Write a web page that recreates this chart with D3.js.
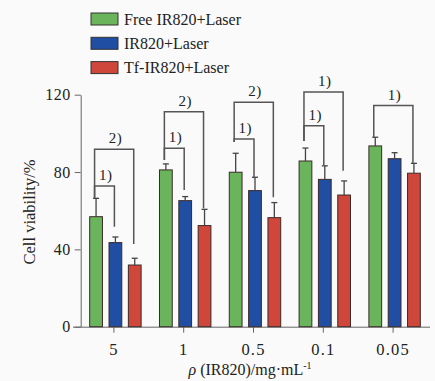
<!DOCTYPE html>
<html><head><meta charset="utf-8">
<script src="https://cdn.jsdelivr.net/npm/d3@7/dist/d3.min.js"></script>
<style>html,body{margin:0;padding:0;background:#fafafa;} svg{display:block;}</style>
</head><body>
<svg id="chart" width="435" height="381"></svg>
<script>
// ---- data ----
const categories = ["5", "1", "0.5", "0.1", "0.05"];
const seriesNames = ["Free IR820+Laser", "IR820+Laser", "Tf-IR820+Laser"];
const freeValues = [56.9, 81.1, 79.9, 85.7, 93.5];
const freeErrors = [9.5, 3.1, 9.8, 6.7, 4.5];
const irValues = [43.5, 65.2, 70.4, 76.2, 86.9];
const irErrors = [2.9, 2.1, 6.9, 7.0, 3.1];
const tfValues = [31.9, 52.3, 56.4, 68.1, 79.4];
const tfErrors = [3.5, 8.4, 7.8, 7.3, 5.1];
const yTicks = [0, 40, 80, 120];
// significance brackets: category, series from/to, top value, leg end values, label
const bracketCats = ["5", "5", "1", "1", "0.5", "0.5", "0.1", "0.1", "0.05"];
const bracketFrom = [0, 0, 0, 0, 0, 0, 0, 0, 0];
const bracketTo = [1, 2, 1, 2, 1, 2, 1, 2, 2];
const bracketTop = [72.8, 91.8, 92.3, 111.2, 97.1, 116.1, 104.0, 121.4, 114.4];
const bracketLeftEnd = [66.4, 66.4, 86.2, 86.2, 95.5, 95.5, 96.0, 96.0, 98.0];
const bracketRightEnd = [51.7, 42.8, 70.7, 61.3, 76.8, 66.9, 83.5, 80.7, 84.5];
const bracketLabels = ["1)", "2)", "1)", "2)", "1)", "2)", "1)", "1)", "1)"];

const colors = ["#6ab55b", "#1f4ea3", "#cf463b"];
const valueSets = [freeValues, irValues, tfValues];
const errorSets = [freeErrors, irErrors, tfErrors];

// ---- scales ----
const svg = d3.select("#chart");
const font = "'Liberation Serif','Times New Roman',serif";
svg.append("rect").attr("width", 435).attr("height", 381).attr("fill", "#fafafa");

const y = d3.scaleLinear().domain([0, 120]).range([326.7, 94.7]);
const x = d3.scaleBand().domain(categories).range([79, 428]).padding(0);
const inner = d3.scaleBand().domain([0, 1, 2]).range([-27.5, 30.5])
  .paddingInner(0.34).paddingOuter(0.17);
const cx = (cat, s) => x(cat) + x.bandwidth() / 2 + inner(s) + inner.bandwidth() / 2;

// ---- axes ----
const yAxis = svg.append("g").attr("transform", "translate(80.7,0)")
  .call(d3.axisLeft(y).tickValues(yTicks).tickSize(6).tickSizeOuter(0).tickPadding(4));
yAxis.selectAll("text").attr("font-family", font).attr("font-size", 16)
  .attr("fill", "#222").attr("letter-spacing", "0.5px");
yAxis.selectAll("line,path").attr("stroke", "#666");

const xAxis = svg.append("g").attr("transform", "translate(0,326.7)")
  .call(d3.axisBottom(x).tickSize(6).tickSizeOuter(0).tickPadding(11));
xAxis.select(".domain").attr("d", "M73,0.5H430").attr("stroke", "#666");
xAxis.selectAll("line").attr("stroke", "#666");
xAxis.selectAll("text").attr("font-family", font).attr("font-size", 16.5)
  .attr("fill", "#222").attr("letter-spacing", "1.2px");

// ---- bars ----
const barData = [];
categories.forEach((c, i) => {
  for (let s = 0; s < 3; s++) barData.push({ c, s, v: valueSets[s][i], e: errorSets[s][i] });
});
const gBars = svg.append("g");
gBars.selectAll("rect").data(barData).join("rect")
  .attr("x", d => x(d.c) + x.bandwidth() / 2 + inner(d.s))
  .attr("width", inner.bandwidth())
  .attr("y", d => y(d.v))
  .attr("height", d => y(0) - y(d.v))
  .attr("fill", d => colors[d.s])
  .attr("stroke", "#3a2a2a").attr("stroke-width", 1);

// error bars
const gErr = svg.append("g").attr("stroke", "#444").attr("stroke-width", 1.3);
gErr.selectAll("line.v").data(barData).join("line").attr("class", "v")
  .attr("x1", d => cx(d.c, d.s)).attr("x2", d => cx(d.c, d.s))
  .attr("y1", d => y(d.v)).attr("y2", d => y(d.v + d.e));
gErr.selectAll("line.h").data(barData).join("line").attr("class", "h")
  .attr("x1", d => cx(d.c, d.s) - 3).attr("x2", d => cx(d.c, d.s) + 3)
  .attr("y1", d => y(d.v + d.e)).attr("y2", d => y(d.v + d.e));

// ---- brackets ----
const brData = bracketCats.map((c, i) => ({
  c, from: bracketFrom[i], to: bracketTo[i], top: bracketTop[i],
  le: bracketLeftEnd[i], re: bracketRightEnd[i], label: bracketLabels[i]
}));
const gBr = svg.append("g");
gBr.selectAll("path").data(brData).join("path")
  .attr("d", d => {
    const x1 = cx(d.c, d.from) - 1.5, x2 = cx(d.c, d.to) - 1;
    return `M${x1},${y(d.le)}V${y(d.top)}H${x2}V${y(d.re)}`;
  })
  .attr("fill", "none").attr("stroke", "#555").attr("stroke-width", 1.5);
gBr.selectAll("text").data(brData).join("text")
  .attr("x", d => (cx(d.c, d.from) + cx(d.c, d.to)) / 2)
  .attr("y", d => y(d.top) - 6)
  .attr("text-anchor", "middle")
  .attr("font-family", font).attr("font-size", 15).attr("fill", "#222")
  .attr("letter-spacing", "0.5px")
  .text(d => d.label);

// ---- axis titles ----
svg.append("text").attr("transform", "translate(35,212) rotate(-90)")
  .attr("text-anchor", "middle").attr("font-family", font).attr("font-size", 16.5)
  .attr("fill", "#222").text("Cell viability/%");

const xt = svg.append("text").attr("x", 250).attr("y", 375)
  .attr("text-anchor", "middle").attr("font-family", font).attr("font-size", 16)
  .attr("fill", "#222");
xt.append("tspan").attr("font-style", "italic").text("ρ");
xt.append("tspan").text(" (IR820)/mg·mL");
xt.append("tspan").attr("font-size", 10).attr("dy", -6).text("-1");

// ---- legend ----
const lg = svg.append("g");
seriesNames.forEach((name, i) => {
  lg.append("rect").attr("x", 91).attr("y", 13 + i * 24.3).attr("width", 27).attr("height", 12)
    .attr("fill", colors[i]).attr("stroke", "#333").attr("stroke-width", 1);
  lg.append("text").attr("x", 124).attr("y", 24.5 + i * 24.3)
    .attr("font-family", font).attr("font-size", 16).attr("fill", "#222")
    .text(name);
});
</script>
</body></html>
